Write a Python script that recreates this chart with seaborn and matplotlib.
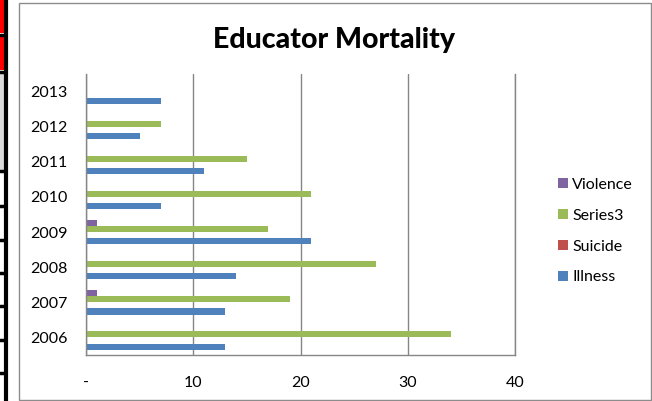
import pandas as pd
import matplotlib
matplotlib.use('Agg')
import matplotlib.pyplot as plt
import matplotlib.patches as mpatches
import seaborn as sns

# Values
years = ['2006', '2007', '2008', '2009', '2010', '2011', '2012', '2013']
illness = [13, 13, 14, 21, 7, 11, 5, 7]
suicide = [0, 0, 0, 0, 0, 0, 0, 0]
series3 = [34, 19, 27, 17, 21, 15, 7, 0]
violence = [0, 1, 0, 1, 0, 0, 0, 0]

series_names = ['Violence', 'Series3', 'Suicide', 'Illness']
colors = {'Violence': '#8064A2', 'Series3': '#9BBB59',
          'Suicide': '#C0504D', 'Illness': '#4F81BD'}

# Long table for seaborn
df = pd.DataFrame({'Year': years, 'Illness': illness, 'Suicide': suicide,
                   'Series3': series3, 'Violence': violence})
long_df = df.melt(id_vars='Year', var_name='Series', value_name='Count')

sns.set_style('white')
plt.rcParams['font.family'] = ['Lato', 'DejaVu Sans']
plt.rcParams['text.color'] = 'black'

fig = plt.figure(figsize=(6.52, 4.01), dpi=100)

# spreadsheet bits peeking in on the left, and the chart frame
for y0, y1 in [(0, 33), (37, 70)]:
    fig.patches.append(mpatches.Rectangle((0, 1 - y1 / 401), 5 / 652, (y1 - y0) / 401,
                                          transform=fig.transFigure, facecolor='#FF0000',
                                          edgecolor='none', zorder=0))
fig.patches.append(mpatches.Rectangle((0, 1 - 170 / 401), 5 / 652, 97 / 401,
                                      transform=fig.transFigure, facecolor='#D9D9D9',
                                      edgecolor='none', zorder=0))
for yl in [34.5, 71.5, 171, 206, 240, 273, 306, 340, 373]:
    fig.add_artist(plt.Line2D([0, 5 / 652], [1 - yl / 401] * 2, color='black', lw=2.5,
                              transform=fig.transFigure))
fig.add_artist(plt.Line2D([6 / 652, 6 / 652], [0, 1], color='black', lw=3,
                          transform=fig.transFigure))
fig.patches.append(mpatches.Rectangle((18.5 / 652, 1.5 / 401), 632 / 652, 397 / 401,
                                      transform=fig.transFigure, facecolor='none',
                                      edgecolor='#8C8C8C', lw=1, zorder=1))

ax = fig.add_axes([86 / 652, 1 - 355 / 401, 429 / 652, 281 / 401])
sns.barplot(data=long_df, x='Count', y='Year', hue='Series', orient='h',
            order=years[::-1], hue_order=series_names, palette=colors,
            width=0.7, linewidth=0, saturation=1, ax=ax, legend=True)

ax.set_xlim(0, 40)
ax.set_xticks([0, 10, 20, 30, 40])
ax.set_xticklabels(['-', '10', '20', '30', '40'])
ax.xaxis.grid(True, color='#868686', linewidth=1)
ax.set_axisbelow(True)
ax.spines['top'].set_visible(False)
for side in ['left', 'bottom', 'right']:
    ax.spines[side].set_color('#868686')
    ax.spines[side].set_linewidth(1)
ax.tick_params(axis='both', length=0, labelsize=11.5, colors='black')
ax.tick_params(axis='x', pad=15)
ax.tick_params(axis='y', pad=13)
ax.set_xlabel('')
ax.set_ylabel('')

handles, labels = ax.get_legend_handles_labels()
ax.legend(handles, labels, loc='upper left', bbox_to_anchor=(550 / 652, 1 - 170 / 401),
          bbox_transform=fig.transFigure, frameon=False, fontsize=11.5,
          handlelength=0.6, handleheight=0.6, handletextpad=0.3, labelspacing=1.05,
          borderpad=0, labelcolor='black')

fig.text(334 / 652, 1 - 40 / 401, 'Educator Mortality', ha='center', va='center',
         fontsize=20.5, fontweight='black', color='black')

fig.savefig('out.png', dpi=100)
